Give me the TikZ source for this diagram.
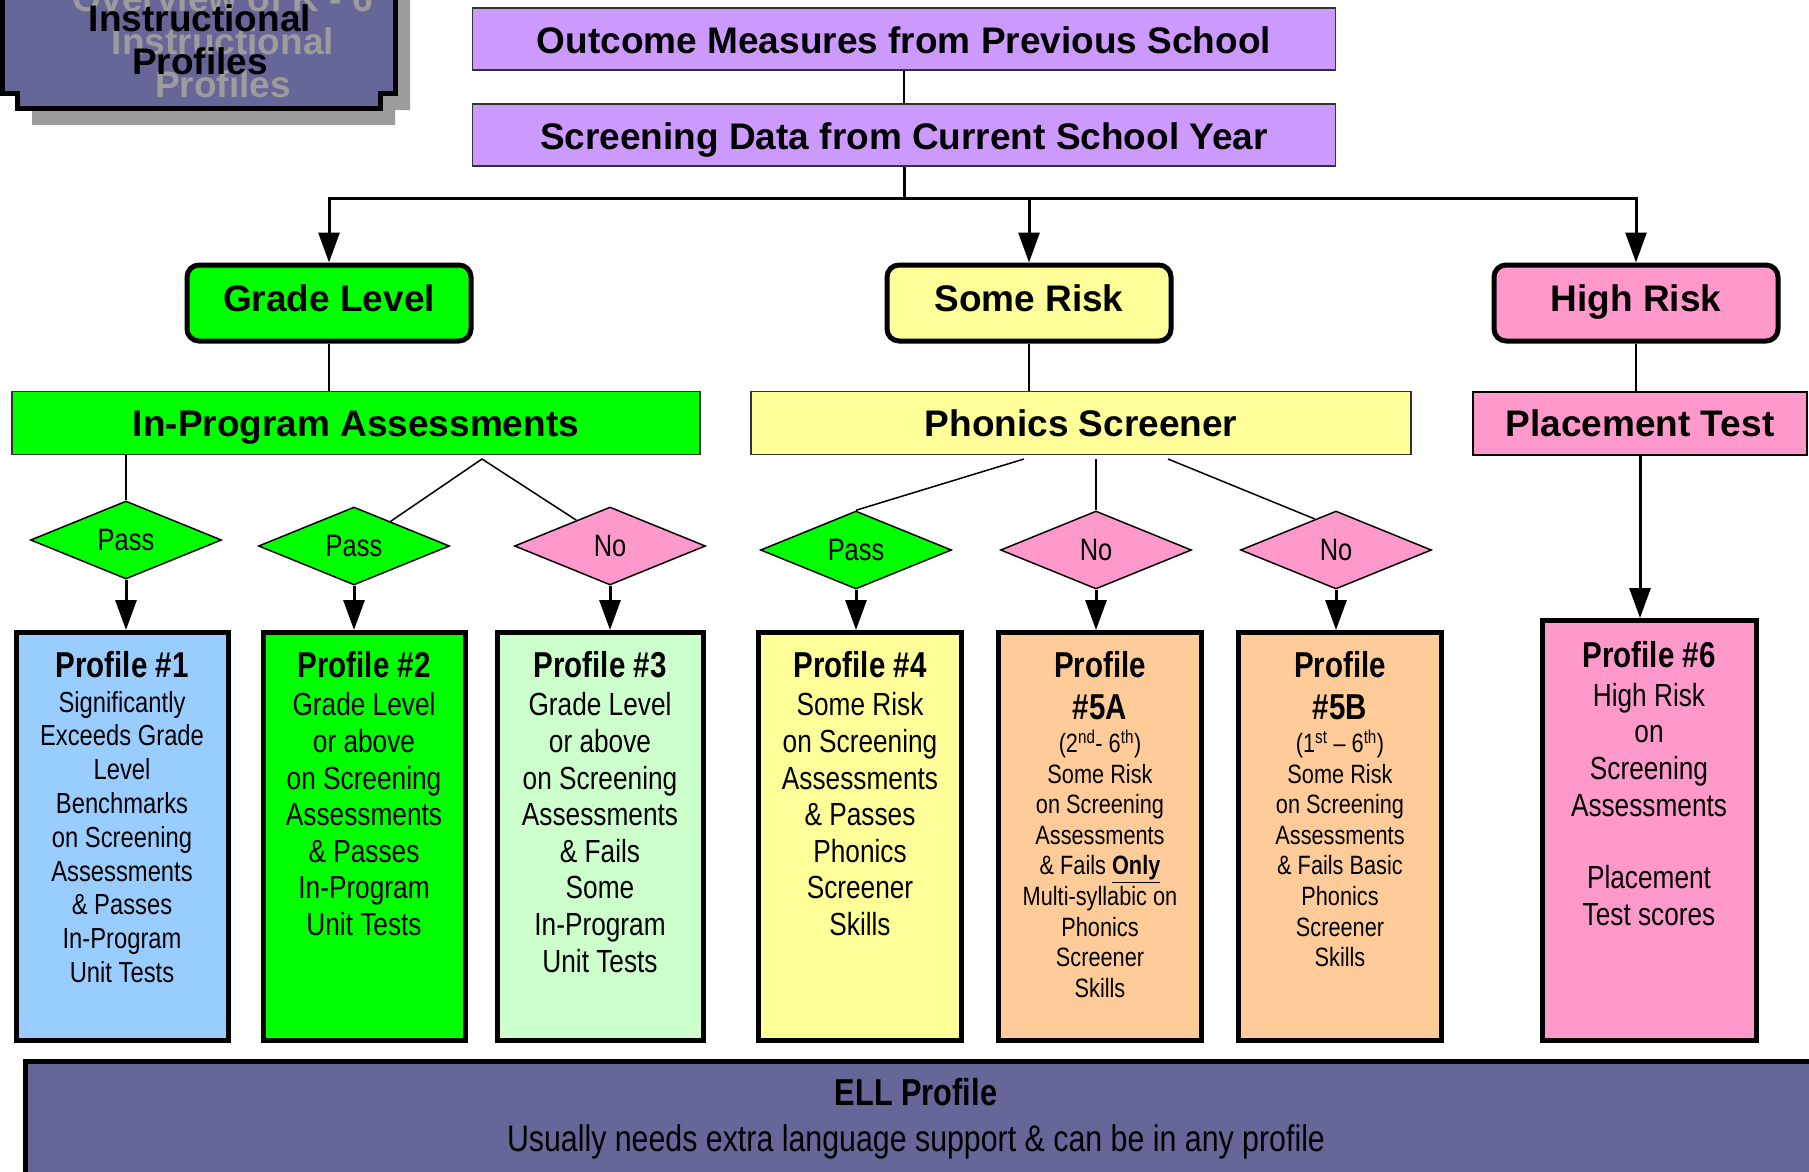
\documentclass[tikz,border=0pt]{standalone}
\usepackage{fontspec}
\setmainfont{Liberation Sans}
\newfontfamily\narrowfont[FakeStretch=0.82]{Liberation Sans}
\usetikzlibrary{shapes.geometric,arrows.meta,calc}
\definecolor{lilac}{HTML}{CC99FF}
\definecolor{brightgreen}{HTML}{00FF00}
\definecolor{paleyellow}{HTML}{FFFF99}
\definecolor{rosepink}{HTML}{FF99CC}
\definecolor{skyblue}{HTML}{99CCFF}
\definecolor{mint}{HTML}{CCFFCC}
\definecolor{peach}{HTML}{FFCC99}
\definecolor{slate}{HTML}{666699}
\definecolor{ghostgrey}{HTML}{9C9C9C}
\newcommand\ptitle[1]{{\fontsize{36}{40}\selectfont\bfseries #1}}
\tikzset{
  heading/.style={font=\fontsize{37}{43}\selectfont\bfseries},
  topbox/.style={heading, draw=black!80, line width=1.5pt, fill=lilac, minimum width=863pt, minimum height=62pt, inner sep=0pt, text height=33pt, text depth=5pt},
  riskbox/.style={heading, draw, line width=5pt, rounded corners=12pt, minimum width=284pt, minimum height=76pt, text height=33pt, text depth=16pt, fill=#1},
  bar/.style={heading, draw=black!80, line width=1.5pt, minimum height=63pt, inner sep=0pt, text height=33pt, text depth=7pt, fill=#1},
  choice/.style={diamond, draw, line width=1.5pt, aspect=2.45, minimum width=191pt, minimum height=78pt, inner sep=0pt, font=\narrowfont\fontsize{31}{36}\selectfont, fill=#1},
  profile/.style={draw, line width=5pt, minimum width=#1, minimum height=408pt, anchor=north, inner sep=0pt},
  ptext/.style={align=center, anchor=north, inner sep=0pt, yshift=-21pt},
  link/.style={line width=1.5pt},
  flow/.style={line width=3pt, -{Triangle[length=30pt,width=21pt]}}
}

\begin{document}
\begin{tikzpicture}[x=1pt,y=-1pt]
  \useasboundingbox (0,0) rectangle (1809,1172);
  \clip (0,0) rectangle (1809,1172);

  % title plaque
  \fill[ghostgrey] (17,-40) -- (17,110) -- (32,110) -- (32,125) -- (395,125) -- (395,110) -- (410,110) -- (410,-40) -- cycle;
  \draw[line width=5pt, fill=slate] (2,-40) -- (2,93) -- (17,93) -- (17,108) -- (380,108) -- (380,93) -- (395,93) -- (395,-40) -- cycle;
  \node[heading, align=center, text=ghostgrey] (ghost) at (223,41) {Overview of K - 6\\Instructional\\Profiles};
  \node[heading, align=center] (plaque) at (200,40) {Instructional\\Profiles};

  \node[topbox] (outcome) at (904,39) {Outcome Measures from Previous School};
  \node[topbox] (screening) at (904,135) {Screening Data from Current School Year};

  \node[riskbox=brightgreen] (grade) at (329,303) {Grade Level};
  \node[riskbox=paleyellow] (some) at (1029,303) {Some Risk};
  \node[riskbox=rosepink] (high) at (1636,303) {High Risk};

  \node[bar=brightgreen, minimum width=688pt] (inprog) at (356,423) {In-Program Assessments};
  \node[bar=paleyellow, minimum width=660pt] (phonics) at (1081,423) {Phonics Screener};
  \node[bar=rosepink, minimum width=334pt, draw=black, line width=2pt] (placement) at (1640,423) {Placement Test};

  \node[choice=brightgreen] (d1) at (126,540) {Pass};
  \node[choice=brightgreen] (d2) at (354,546) {Pass};
  \node[choice=rosepink] (d3) at (610,546) {No};
  \node[choice=brightgreen] (d4) at (856,550) {Pass};
  \node[choice=rosepink] (d5) at (1096,550) {No};
  \node[choice=rosepink] (d6) at (1336,550) {No};

  \node[profile=212pt, fill=skyblue] (p1) at (122,630) {};
  \node[profile=202pt, fill=brightgreen] (p2) at (364,630) {};
  \node[profile=206pt, fill=mint] (p3) at (600,630) {};
  \node[profile=203pt, fill=paleyellow] (p4) at (860,630) {};
  \node[profile=203pt, fill=peach] (p5a) at (1100,630) {};
  \node[profile=203pt, fill=peach] (p5b) at (1340,630) {};
  \node[profile=214pt, fill=rosepink, minimum height=420pt] (p6) at (1649,618) {};

  \node[ptext, font=\narrowfont\fontsize{29}{33.8}\selectfont] (p1t) at (p1.north)
    {\ptitle{Profile \#1}\\[1pt] Significantly\\ Exceeds Grade\\ Level\\ Benchmarks\\ on Screening\\ Assessments\\ \& Passes\\ In-Program\\ Unit Tests};
  \node[ptext, font=\narrowfont\fontsize{32}{36.6}\selectfont] (p2t) at (p2.north)
    {\ptitle{Profile \#2}\\[2pt] Grade Level\\ or above\\ on Screening\\ Assessments\\ \& Passes\\ In-Program\\ Unit Tests};
  \node[ptext, font=\narrowfont\fontsize{32}{36.6}\selectfont] (p3t) at (p3.north)
    {\ptitle{Profile \#3}\\[2pt] Grade Level\\ or above\\ on Screening\\ Assessments\\ \& Fails\\ Some\\ In-Program\\ Unit Tests};
  \node[ptext, font=\narrowfont\fontsize{32}{36.6}\selectfont] (p4t) at (p4.north)
    {\ptitle{Profile \#4}\\[2pt] Some Risk\\ on Screening\\ Assessments\\ \& Passes\\ Phonics\\ Screener\\ Skills};
  \node[ptext, font=\narrowfont\fontsize{26.5}{30.6}\selectfont] (p5at) at (p5a.north)
    {\ptitle{Profile}\\[12pt] \ptitle{\#5A}\\[2pt] (2\textsuperscript{nd}- 6\textsuperscript{th})\\ Some Risk\\ on Screening\\ Assessments\\ \& Fails \underline{\textbf{Only}}\\ Multi-syllabic on\\ Phonics\\ Screener\\ Skills};
  \node[ptext, font=\narrowfont\fontsize{26.5}{30.6}\selectfont] (p5bt) at (p5b.north)
    {\ptitle{Profile}\\[12pt] \ptitle{\#5B}\\[2pt] (1\textsuperscript{st} – 6\textsuperscript{th})\\ Some Risk\\ on Screening\\ Assessments\\ \& Fails Basic\\ Phonics\\ Screener\\ Skills};
  \node[ptext, font=\narrowfont\fontsize{32}{36.8}\selectfont] (p6t) at ([yshift=-2pt]p6.north)
    {\ptitle{Profile \#6}\\[2pt] High Risk\\ on\\ Screening\\ Assessments\\[35pt] Placement\\ Test scores};

  \node[draw, line width=5pt, fill=slate, minimum width=1800pt, minimum height=140pt, anchor=north west] (ell) at (23,1059) {};
  \node[align=center, font=\narrowfont\fontsize{37}{46}\selectfont] (ellt) at (916,1119)
    {{\fontsize{37.5}{40}\selectfont\bfseries ELL Profile}\\ Usually needs extra language support \& can be in any profile};

  % connectors
  \coordinate (fork) at (904,198);
  \draw[line width=2.5pt] (outcome) -- (screening);
  \draw[line width=3pt] (screening) -- (fork);
  \draw[flow] (fork) -| (grade);
  \draw[flow] (fork) -| (some);
  \draw[flow] (fork) -| (high);

  \draw[link] (grade.south) -- (grade.south |- inprog.north);
  \draw[link] (some.south) -- (some.south |- phonics.north);
  \draw[link] (high.south) -- (high.south |- placement.north);

  \coordinate (ipfork) at (482,459);
  \coordinate (ps1) at (1024,459);
  \coordinate (ps2) at (1096,459);
  \coordinate (ps3) at (1168,459);
  \draw[link] (d1.north |- inprog.south) -- (d1.north);
  \draw[link] ($(d2.north)!0.38!(d2.east)$) -- (ipfork) -- ($(d3.north)!0.35!(d3.west)$);
  \draw[link] (ps1) -- (d4.north);
  \draw[link] (ps2) -- (d5.north);
  \draw[link] (ps3) -- ($(d6.north)!0.22!(d6.west)$);

  \foreach \d/\p in {d1/p1,d2/p2,d3/p3,d4/p4,d5/p5a,d6/p5b}
    \draw[flow] (\d.south) -- (\d.south |- \p.north);
  \draw[flow] (placement.south) -- (placement.south |- p6.north);
\end{tikzpicture}
\end{document}
